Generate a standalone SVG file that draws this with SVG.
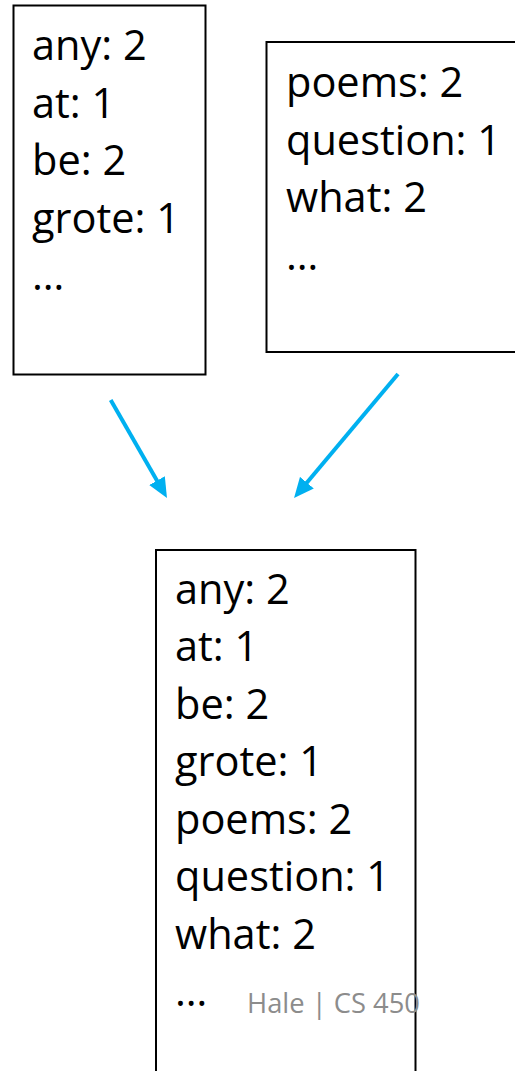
<svg xmlns="http://www.w3.org/2000/svg" width="515" height="1071" viewBox="0 0 515 1071">
  <style>
    .box { fill: #ffffff; stroke: #000000; stroke-width: 2; }
    .word { font-family: "Open Sans", "Liberation Sans", sans-serif; font-size: 41.5px; fill: #000000; }
    .footer { font-family: "Open Sans", "Liberation Sans", sans-serif; font-size: 26.5px; fill: #8c8c8c; }
    .flow { fill: none; stroke: #00B0F0; stroke-width: 4; }
  </style>
  <defs>
    <marker id="head" viewBox="0 0 20 18" markerWidth="20" markerHeight="18" refX="7" refY="9" orient="auto" markerUnits="userSpaceOnUse">
      <path d="M0,0 L20,9 L0,18 z" fill="#00B0F0"/>
    </marker>
  </defs>
  <rect width="515" height="1071" fill="#ffffff"/>

  <!-- first partial count -->
  <g id="counts-a">
    <rect class="box" x="13.5" y="5.5" width="192" height="369"/>
    <text class="word" x="32" y="60">any: 2</text>
    <text class="word" x="32" y="117.5">at: 1</text>
    <text class="word" x="32" y="175">be: 2</text>
    <text class="word" x="32" y="232.5">grote: 1</text>
    <text class="word" x="32" y="290">…</text>
  </g>

  <!-- second partial count -->
  <g id="counts-b">
    <rect class="box" x="266.5" y="42" width="250" height="310"/>
    <text class="word" x="286" y="97">poems: 2</text>
    <text class="word" x="286" y="154.5">question: 1</text>
    <text class="word" x="286" y="212">what: 2</text>
    <text class="word" x="286" y="269.5">…</text>
  </g>

  <!-- merged result -->
  <g id="merged">
    <rect class="box" x="156" y="550" width="259.5" height="540"/>
    <text class="word" x="175" y="603.5">any: 2</text>
    <text class="word" x="175" y="661">at: 1</text>
    <text class="word" x="175" y="718.5">be: 2</text>
    <text class="word" x="175" y="776">grote: 1</text>
    <text class="word" x="175" y="833.5">poems: 2</text>
    <text class="word" x="175" y="891">question: 1</text>
    <text class="word" x="175" y="948.5">what: 2</text>
    <text class="word" x="175" y="1006">…</text>
  </g>

  <!-- footer -->
  <g id="footer">
    <text class="footer" x="247" y="1013" textLength="173" lengthAdjust="spacingAndGlyphs">Hale | CS 450</text>
  </g>

  <!-- merge arrows -->
  <g id="connectors">
    <line class="flow" x1="110.7" y1="400" x2="160.5" y2="486.7" marker-end="url(#head)"/>
    <line class="flow" x1="398" y1="374" x2="302.4" y2="488" marker-end="url(#head)"/>
  </g>
</svg>
